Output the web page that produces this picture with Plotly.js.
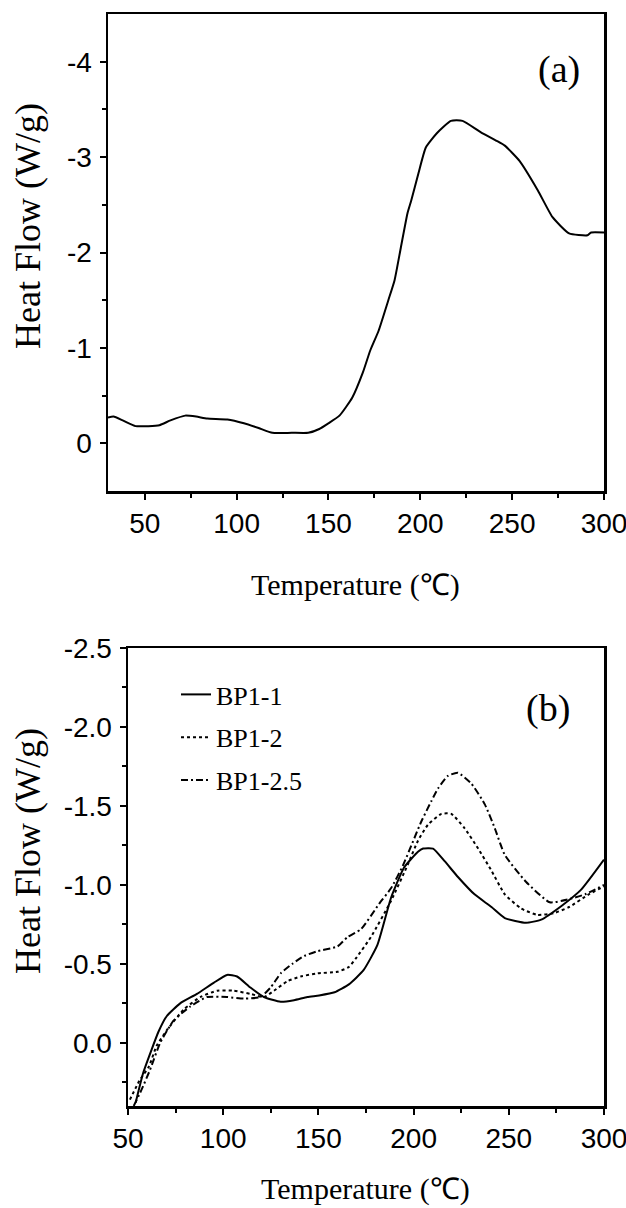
<!DOCTYPE html>
<html>
<head>
<meta charset="utf-8">
<script src="https://cdn.plot.ly/plotly-3.0.1.min.js"></script>
<style>html,body{margin:0;padding:0;background:#fff;}#chart{width:626px;height:1208px;}</style>
</head>
<body>
<div id="chart"></div>
<script>
// ---- Data: panel (a) ----
const tempA = [30, 33, 38, 45, 52, 58, 64, 72, 78, 84, 95, 104, 112, 119.5, 130, 139, 145, 150, 156, 163, 168.7, 172.7, 177.3, 182.6, 186, 189.4, 193, 195, 199, 203, 209, 216.7, 223, 233, 241.6, 246, 254, 264, 272, 281, 291, 293, 300];
const heatA = [-0.27, -0.28, -0.24, -0.18, -0.18, -0.19, -0.24, -0.29, -0.28, -0.26, -0.25, -0.21, -0.16, -0.11, -0.11, -0.11, -0.15, -0.21, -0.29, -0.48, -0.74, -0.97, -1.18, -1.50, -1.71, -2.05, -2.41, -2.54, -2.83, -3.10, -3.25, -3.38, -3.38, -3.26, -3.17, -3.12, -2.96, -2.65, -2.37, -2.20, -2.18, -2.21, -2.21];

// ---- Data: panel (b) ----
const seriesNames = ['BP1-1', 'BP1-2', 'BP1-2.5'];
const tempB1 = [54, 58, 62.5, 66, 70.4, 77.4, 86.2, 95, 102, 107.3, 114.3, 121.4, 130.2, 137.2, 144.2, 150.4, 158.5, 166, 173.7, 181, 188.2, 195, 202.3, 205, 210.2, 216.3, 223.3, 232, 240.9, 247.9, 259, 267, 278, 288, 300];
const heatB1 = [0.38, 0.19, 0.04, -0.07, -0.17, -0.25, -0.31, -0.38, -0.43, -0.42, -0.35, -0.29, -0.26, -0.27, -0.29, -0.30, -0.32, -0.37, -0.46, -0.62, -0.92, -1.11, -1.21, -1.23, -1.23, -1.15, -1.05, -0.94, -0.86, -0.79, -0.76, -0.78, -0.87, -0.97, -1.16];
const tempB2 = [51, 56, 61, 65, 70.4, 79.2, 88, 96.8, 105.5, 114.3, 121.4, 126.7, 133.7, 140.7, 149.5, 160, 166, 170, 177.6, 188.2, 197, 202.3, 207.5, 214.6, 219.8, 226.7, 233.9, 240.9, 247.9, 256.5, 265, 273.5, 281.7, 292, 300];
const heatB2 = [0.36, 0.24, 0.15, 0.02, -0.08, -0.21, -0.29, -0.33, -0.33, -0.31, -0.29, -0.33, -0.39, -0.42, -0.44, -0.45, -0.48, -0.54, -0.67, -0.90, -1.13, -1.28, -1.38, -1.45, -1.45, -1.36, -1.23, -1.09, -0.94, -0.85, -0.81, -0.82, -0.86, -0.94, -0.99];
const tempB3 = [53, 57, 61.6, 66.9, 73.9, 82.7, 91.5, 102, 110.8, 119.6, 124.9, 130.2, 136.3, 142.5, 149.5, 160, 165.3, 172.4, 181.9, 188.2, 194.3, 204, 209.3, 212.8, 218, 223.3, 230.4, 237.4, 242.6, 247.9, 259, 271.5, 281.7, 290, 300];
const heatB3 = [0.40, 0.30, 0.17, 0.0, -0.14, -0.23, -0.29, -0.29, -0.28, -0.29, -0.35, -0.44, -0.50, -0.55, -0.58, -0.61, -0.67, -0.72, -0.88, -0.98, -1.12, -1.40, -1.53, -1.61, -1.69, -1.71, -1.64, -1.51, -1.36, -1.19, -1.02, -0.89, -0.91, -0.94, -1.0];

// ---- Tick labels ----
const xTickVals = [50, 100, 150, 200, 250, 300];
const xTickText = ['50', '100', '150', '200', '250', '300'];
const xMinorVals = [75, 125, 175, 225, 275];
const yTickValsA = [-4, -3, -2, -1, 0];
const yTickTextA = ['-4', '-3', '-2', '-1', '0'];
const yMinorA = [-3.5, -2.5, -1.5, -0.5];
const yTickValsB = [-2.5, -2.0, -1.5, -1.0, -0.5, 0.0];
const yTickTextB = ['-2.5', '-2.0', '-1.5', '-1.0', '-0.5', '0.0'];
const yMinorB = [-2.25, -1.75, -1.25, -0.75, -0.25, 0.25];

const tickFont = {family: '"Liberation Sans", Arial, sans-serif', size: 28, color: '#000'};
const serif = '"Liberation Serif", "Times New Roman", serif';

function axisBase(extra) {
  return Object.assign({
    showline: true, linewidth: 2.5, linecolor: '#000', mirror: true,
    ticks: 'outside', ticklen: 6, tickwidth: 2, tickcolor: '#000',
    showgrid: false, zeroline: false, tickfont: tickFont, fixedrange: true,
    ticklabeloverflow: 'allow'
  }, extra);
}

const traces = [
  {x: tempA, y: heatA, xaxis: 'x', yaxis: 'y', mode: 'lines', showlegend: false,
   line: {color: '#000', width: 2, shape: 'spline', smoothing: 0.5}},
  {x: tempB1, y: heatB1, xaxis: 'x2', yaxis: 'y2', mode: 'lines', name: seriesNames[0], legendgroup: 'g1',
   line: {color: '#000', width: 2, shape: 'spline', smoothing: 0.5}},
  {x: tempB2, y: heatB2, xaxis: 'x2', yaxis: 'y2', mode: 'lines', name: seriesNames[1], legendgroup: 'g2',
   line: {color: '#000', width: 2, dash: '3px,3px', shape: 'spline', smoothing: 0.5}},
  {x: tempB3, y: heatB3, xaxis: 'x2', yaxis: 'y2', mode: 'lines', name: seriesNames[2], legendgroup: 'g3',
   line: {color: '#000', width: 2, dash: '7px,3px,2px,3px', shape: 'spline', smoothing: 0.5}}
];

const minorStyle = {ticks: 'outside', ticklen: 4, tickwidth: 2, tickcolor: '#000', tickmode: 'array'};

const layout = {
  width: 626, height: 1208,
  margin: {l: 0, r: 0, t: 0, b: 0},
  paper_bgcolor: '#fff', plot_bgcolor: '#fff',
  xaxis: axisBase({domain: [108/626, 604/626], range: [30, 300], anchor: 'y',
    tickmode: 'array', tickvals: xTickVals, ticktext: xTickText, ticklabelstandoff: 0,
    minor: Object.assign({tickvals: xMinorVals}, minorStyle)}),
  yaxis: axisBase({domain: [1 - 491/1208, 1 - 14/1208], range: [0.5, -4.5], anchor: 'x',
    tickmode: 'array', tickvals: yTickValsA, ticktext: yTickTextA, ticklabelstandoff: 2,
    minor: Object.assign({tickvals: yMinorA}, minorStyle)}),
  xaxis2: axisBase({domain: [128/626, 604/626], range: [50, 300], anchor: 'y2',
    tickmode: 'array', tickvals: xTickVals, ticktext: xTickText, ticklabelstandoff: 0,
    minor: Object.assign({tickvals: xMinorVals}, minorStyle)}),
  yaxis2: axisBase({domain: [1 - 1106/1208, 1 - 648/1208], range: [0.4, -2.5], anchor: 'x2',
    tickmode: 'array', tickvals: yTickValsB, ticktext: yTickTextB, ticklabelstandoff: 2,
    minor: Object.assign({tickvals: yMinorB}, minorStyle)}),
  showlegend: true,
  legend: {x: 176/626, y: 1 - 671/1208, xanchor: 'left', yanchor: 'top',
    bgcolor: 'rgba(0,0,0,0)', borderwidth: 0, traceorder: 'grouped', tracegroupgap: 6,
    font: {family: serif, size: 26, color: '#000'}},
  annotations: [
    {text: 'Heat Flow (W/g)', x: 28/626, y: 1 - 226/1208, xref: 'paper', yref: 'paper', showarrow: false,
     textangle: -90, xanchor: 'center', yanchor: 'middle', font: {family: serif, size: 36, color: '#000'}},
    {text: 'Heat Flow (W/g)', x: 28/626, y: 1 - 851/1208, xref: 'paper', yref: 'paper', showarrow: false,
     textangle: -90, xanchor: 'center', yanchor: 'middle', font: {family: serif, size: 36, color: '#000'}},
    {text: 'Temperature (℃)', x: 355/626, y: 1 - 585/1208, xref: 'paper', yref: 'paper', showarrow: false,
     xanchor: 'center', yanchor: 'middle', font: {family: serif, size: 30, color: '#000'}},
    {text: 'Temperature (℃)', x: 365/626, y: 0, xref: 'paper', yref: 'paper', showarrow: false,
     xanchor: 'center', yanchor: 'bottom', font: {family: serif, size: 30, color: '#000'}},
    {text: '(a)', x: 559/626, y: 1 - 69/1208, xref: 'paper', yref: 'paper', showarrow: false,
     xanchor: 'center', yanchor: 'middle', font: {family: serif, size: 38, color: '#000'}},
    {text: '(b)', x: 548/626, y: 1 - 708/1208, xref: 'paper', yref: 'paper', showarrow: false,
     xanchor: 'center', yanchor: 'middle', font: {family: serif, size: 38, color: '#000'}}
  ]
};

Plotly.newPlot('chart', traces, layout, {displayModeBar: false, staticPlot: true});
</script>
</body>
</html>
